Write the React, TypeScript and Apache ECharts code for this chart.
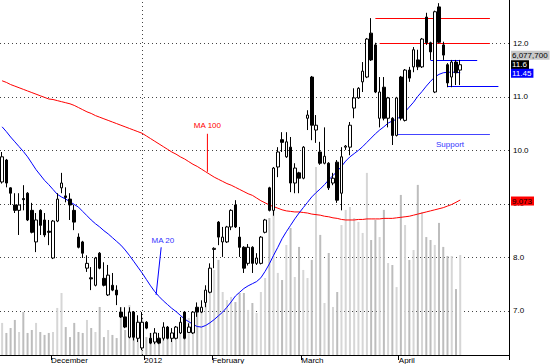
import React, { useEffect, useRef } from 'react';
import * as echarts from 'echarts';

const FONT = '"Liberation Sans", Arial, sans-serif';
const slotCount = 120;
const monthTickIdx = [12, 34, 50, 71, 94];
const monthTickText = ['December', '2012', 'February', 'March', 'April'];
const yearLineIdx = 33;

// open, close, low, high
const ohlc: number[][] = [
  [9.41, 9.88, 9.38, 9.97], [9.82, 9.39, 9.31, 9.84], [9.30, 9.20, 8.98, 9.31], [8.98, 8.88, 8.83, 9.20],
  [8.88, 8.98, 8.42, 9.20], [9.10, 9.08, 8.88, 9.35], [9.20, 8.70, 8.68, 9.22], [8.88, 8.47, 8.45, 9.02],
  [8.29, 8.70, 8.10, 8.83], [8.88, 8.60, 8.42, 8.90], [8.70, 8.42, 8.38, 8.83], [8.49, 8.47, 8.23, 8.70],
  [7.99, 8.68, 7.97, 8.70], [8.68, 9.09, 8.66, 9.20], [9.30, 9.39, 9.20, 9.58], [9.15, 9.12, 9.03, 9.31],
  [9.09, 8.98, 8.70, 9.20], [8.88, 8.66, 8.51, 8.98], [8.38, 8.19, 8.17, 8.45], [8.29, 8.08, 7.99, 8.31],
  [7.80, 7.89, 7.73, 8.04], [7.62, 7.60, 7.39, 7.82], [7.48, 7.99, 7.46, 8.01], [8.08, 7.80, 7.78, 8.10],
  [7.61, 7.48, 7.46, 7.91], [7.30, 7.67, 7.28, 7.86], [7.48, 7.39, 7.37, 7.71], [7.39, 7.30, 7.11, 7.48],
  [6.98, 6.89, 6.87, 7.07], [6.89, 6.70, 6.68, 7.07], [6.51, 6.98, 6.49, 7.07], [6.98, 6.51, 6.45, 7.00],
  [6.49, 6.79, 6.42, 6.92], [6.31, 6.79, 6.27, 6.98], [6.79, 6.68, 6.66, 6.81], [6.49, 6.40, 6.38, 6.59],
  [6.42, 6.59, 6.38, 6.68], [6.49, 6.40, 6.38, 6.59], [6.49, 6.70, 6.45, 6.79], [6.70, 6.49, 6.47, 6.72],
  [6.49, 6.59, 6.42, 6.68], [6.49, 6.70, 6.47, 6.72], [6.59, 6.79, 6.57, 6.89], [6.98, 6.49, 6.47, 7.00],
  [6.60, 6.70, 6.59, 6.77], [6.59, 6.98, 6.57, 7.00], [7.07, 6.98, 6.89, 7.16], [6.98, 7.07, 6.96, 7.20],
  [7.16, 7.39, 7.07, 7.48], [7.35, 7.80, 7.33, 7.89], [8.15, 8.17, 7.80, 8.19], [8.66, 8.38, 8.23, 8.68],
  [8.29, 8.38, 8.01, 8.57], [8.29, 8.57, 8.27, 8.59], [8.57, 8.88, 8.51, 8.90], [8.98, 8.57, 8.55, 9.07],
  [8.38, 8.19, 8.01, 8.57], [8.19, 7.80, 7.71, 8.21], [7.89, 8.19, 7.85, 8.25], [8.19, 7.89, 7.71, 8.21],
  [7.89, 7.99, 7.86, 8.08], [7.89, 8.38, 7.87, 8.40], [8.47, 8.70, 8.45, 8.72], [9.30, 8.88, 8.86, 9.32],
  [8.88, 9.67, 8.78, 9.69], [9.69, 9.97, 9.50, 10.06], [10.20, 10.15, 9.97, 10.34], [9.88, 10.16, 9.86, 10.34],
  [10.06, 9.39, 9.22, 10.25], [9.39, 9.67, 9.20, 9.76], [9.58, 9.48, 9.20, 9.60], [9.48, 10.06, 9.46, 10.08],
  [10.60, 10.66, 10.38, 10.75], [11.37, 10.47, 10.19, 11.39], [10.38, 10.47, 10.14, 10.66], [9.97, 9.76, 9.73, 10.16],
  [9.76, 9.89, 9.74, 10.43], [9.76, 9.30, 9.26, 9.78], [9.39, 9.48, 9.35, 9.58], [9.78, 9.07, 9.02, 9.82],
  [9.20, 9.88, 8.88, 10.06], [10.06, 10.08, 10.01, 10.10], [10.06, 10.47, 9.91, 10.53], [10.79, 10.98, 10.60, 11.16],
  [10.98, 11.16, 10.96, 11.18], [11.28, 11.48, 11.09, 11.65], [11.37, 12.08, 11.35, 12.10], [12.19, 11.69, 11.67, 12.47],
  [11.97, 11.09, 11.07, 12.01], [10.60, 11.09, 10.43, 11.37], [11.18, 10.60, 10.56, 11.37], [10.60, 10.98, 10.43, 11.00],
  [10.60, 10.28, 10.10, 10.62], [10.28, 10.98, 10.26, 11.00], [11.37, 10.60, 10.56, 11.39], [10.56, 11.50, 10.54, 11.52],
  [11.50, 11.35, 11.28, 11.56], [11.56, 11.88, 11.46, 11.93], [11.69, 11.56, 11.50, 11.88], [11.56, 12.08, 11.54, 12.10],
  [12.49, 12.01, 11.97, 12.57], [12.01, 11.84, 11.69, 12.03], [11.09, 12.59, 11.07, 12.61], [12.68, 12.02, 12.00, 12.75],
  [11.97, 11.78, 11.69, 12.03], [11.60, 11.26, 11.18, 11.63], [11.37, 11.65, 11.18, 11.69], [11.65, 11.45, 11.22, 11.69],
  [11.50, 11.60, 11.22, 11.69],
];

// volume, millions of shares
const volumeM: number[] = [
  1.95, 1.34, 1.64, 2.13, 1.40, 2.61, 1.34, 1.52, 1.95, 1.40, 1.22, 1.34, 1.40, 2.86, 3.77, 1.70,
  1.09, 1.95, 1.40, 1.34, 2.13, 1.64, 1.40, 2.92, 1.09, 1.52, 1.22, 1.03, 2.92, 1.52, 3.04, 2.61,
  2.13, 2.31, 1.09, 1.34, 0.79, 1.09, 1.52, 1.64, 1.34, 1.70, 1.52, 2.13, 2.25, 2.13, 2.74, 2.92,
  3.16, 3.95, 5.17, 5.78, 3.83, 3.34, 3.53, 3.22, 3.77, 3.77, 2.74, 3.16, 2.55, 3.83, 4.68, 8.33,
  10.9, 4.99, 4.56, 6.69, 7.72, 4.74, 6.57, 5.17, 4.68, 5.78, 11.43,
  7.30, 3.16, 6.20, 2.92, 3.83, 7.90, 8.82, 9.00, 8.33, 8.09, 7.42, 11.07, 6.99, 8.21, 7.17, 8.82,
  5.59, 5.47, 4.13, 9.73, 7.90, 5.78, 6.38, 10.34, 8.69, 7.17, 6.99, 6.69, 8.03, 6.57, 6.02, 6.02,
  4.01, 6.0777,
];
const volumeMax = 21.58;

const ma20: number[] = [
  10.44, 10.35, 10.25, 10.16, 10.07, 9.98, 9.88, 9.76, 9.64, 9.54, 9.44, 9.36, 9.27, 9.18, 9.13, 9.09,
  9.04, 8.99, 8.94, 8.86, 8.78, 8.70, 8.63, 8.57, 8.50, 8.44, 8.37, 8.30, 8.23, 8.14, 8.04, 7.93,
  7.82, 7.71, 7.59, 7.47, 7.36, 7.27, 7.19, 7.12, 7.05, 6.99, 6.92, 6.85, 6.80, 6.75, 6.71, 6.70,
  6.73, 6.78, 6.84, 6.91, 6.98, 7.07, 7.17, 7.28, 7.35, 7.42, 7.47, 7.51, 7.55, 7.62, 7.74, 7.88,
  8.04, 8.19, 8.35, 8.48, 8.60, 8.72, 8.83, 8.93, 9.03, 9.13, 9.21, 9.28, 9.36, 9.45, 9.53, 9.61,
  9.70, 9.80, 9.88, 9.94, 10.00, 10.07, 10.15, 10.23, 10.31, 10.38, 10.44, 10.51, 10.55, 10.58, 10.64, 10.72,
  10.81, 10.90, 11.01, 11.10, 11.20, 11.29, 11.37, 11.42, 11.45, 11.46, 11.46, 11.46, 11.45,
];

const ma100: number[] = [
  11.30, 11.27, 11.23, 11.20, 11.17, 11.14, 11.11, 11.08, 11.05, 11.02, 10.99, 10.96, 10.95, 10.93, 10.91, 10.89,
  10.87, 10.84, 10.80, 10.76, 10.72, 10.69, 10.65, 10.62, 10.59, 10.56, 10.53, 10.50, 10.47, 10.44, 10.41, 10.38,
  10.35, 10.32, 10.27, 10.22, 10.17, 10.12, 10.07, 10.02, 9.97, 9.93, 9.88, 9.84, 9.79, 9.74, 9.70, 9.65,
  9.60, 9.55, 9.50, 9.46, 9.42, 9.38, 9.35, 9.31, 9.27, 9.23, 9.19, 9.16, 9.11, 9.06, 9.02, 8.98,
  8.95, 8.92, 8.89, 8.87, 8.86, 8.85, 8.85, 8.84, 8.83, 8.81, 8.80, 8.79, 8.77, 8.76, 8.74, 8.73,
  8.71, 8.70, 8.70, 8.70, 8.71, 8.71, 8.72, 8.72, 8.72, 8.72, 8.73, 8.73, 8.73, 8.74, 8.75, 8.76,
  8.77, 8.79, 8.81, 8.83, 8.85, 8.87, 8.89, 8.91, 8.93, 8.96, 8.99, 9.03, 9.073,
];

// horizontal level lines: [fromIdx, toIdx, price]
const redLevels: number[][] = [[88, 115, 12.47], [89, 115, 12.0]];
const blueLevels: number[][] = [[101, 112, 11.68], [105, 117, 11.19]];
const supportLevel: number[][] = [[93, 115, 10.30]];

const priceMin = 6.178;
const priceMax = 12.809;

export default function App() {
  const ref = useRef<HTMLDivElement>(null);
  useEffect(() => {
    if (!ref.current) return;
    const chart = echarts.init(ref.current, null, { renderer: 'svg' });
    const categories = Array.from({ length: slotCount }, (_, i) => 'd' + i);
    const tickSet = new Set(monthTickIdx);
    const labelOf = (i: number) => {
      const k = monthTickIdx.indexOf(i);
      return k >= 0 ? monthTickText[k] : '';
    };
    const dotted = { type: [1, 3] as any, color: '#444', width: 1 };

    const mkLevel = (arr: number[][], color: string) =>
      arr.map((l) => [
        { coord: [l[0], l[2]], lineStyle: { color, width: 1, type: 'solid' } },
        { coord: [l[1], l[2]] },
      ]);

    const option: any = {
      animation: false,
      backgroundColor: '#fff',
      grid: { left: 0, right: 41, top: 0, bottom: 9, containLabel: false, outerBoundsMode: 'none' },
      xAxis: [
        {
          type: 'category',
          data: categories,
          boundaryGap: true,
          axisLine: { show: true, lineStyle: { color: '#000', width: 1 } },
          axisTick: {
            show: true,
            alignWithLabel: false,
            interval: (i: number) => tickSet.has(i),
            length: 5,
            lineStyle: { color: '#000' },
          },
          axisLabel: {
            show: true,
            interval: (i: number) => tickSet.has(i),
            formatter: (_v: string, i: number) => labelOf(i),
            align: 'left',
            margin: 1,
            padding: [0, 0, 0, -2],
            fontSize: 8,
            fontFamily: FONT,
            color: '#000',
          },
          splitLine: { show: false },
        },
      ],
      yAxis: [
        {
          type: 'value',
          position: 'right',
          min: priceMin,
          max: priceMax,
          splitNumber: 6,
          axisLine: { show: true, lineStyle: { color: '#000', width: 1 } },
          axisTick: { show: false },
          axisLabel: {
            formatter: (v: number) => v.toFixed(1),
            margin: 4,
            fontSize: 8,
            fontFamily: FONT,
            color: '#000',
            showMinLabel: false,
            showMaxLabel: false,
          },
          splitLine: { show: true, showMinLine: false, showMaxLine: false, lineStyle: dotted },
        },
        { type: 'value', min: 0, max: volumeMax, show: false, splitLine: { show: false } },
      ],
      series: [
        {
          type: 'bar',
          yAxisIndex: 1,
          barWidth: 2,
          silent: true,
          z: 1,
          data: volumeM.map((v, i) => ({
            value: v,
            itemStyle: { color: ohlc[i][1] >= ohlc[i][0] ? '#d6d6d6' : '#bdbdbd' },
          })),
        },
        {
          type: 'line',
          data: ma100,
          symbol: 'none',
          silent: true,
          z: 3,
          lineStyle: { color: '#ff0000', width: 1 },
          itemStyle: { color: '#ff0000' },
        },
        {
          type: 'line',
          data: ma20,
          symbol: 'none',
          silent: true,
          z: 3,
          lineStyle: { color: '#0000ff', width: 1 },
          itemStyle: { color: '#0000ff' },
        },
        {
          type: 'candlestick',
          data: ohlc.map((d) => [d[0], d[1], d[2], d[3]]),
          barWidth: 3,
          z: 5,
          silent: true,
          itemStyle: {
            color: '#ffffff',
            color0: '#000000',
            borderColor: '#000000',
            borderColor0: '#000000',
            borderWidth: 1,
          },
          markLine: {
            silent: true,
            symbol: ['none', 'none'],
            label: { show: false },
            animation: false,
            data: [
              { xAxis: yearLineIdx, lineStyle: dotted },
              ...mkLevel(redLevels, '#ff0000'),
              ...mkLevel(blueLevels, '#0000ff'),
              ...mkLevel(supportLevel, '#4444ff'),
            ],
          },
        },
      ],
    };
    chart.setOption(option);

    const toPx = (idx: number, price: number) => {
      const i0 = Math.floor(idx);
      const f = idx - i0;
      const a = chart.convertToPixel({ xAxisIndex: 0, yAxisIndex: 0 }, [i0, price]) as number[];
      const b = chart.convertToPixel({ xAxisIndex: 0, yAxisIndex: 0 }, [i0 + 1, price]) as number[];
      return [a[0] + (b[0] - a[0]) * f, a[1]];
    };
    const axisX = chart.getWidth() - 41;
    const last = ohlc.length - 1;
    const yClose = toPx(last, ohlc[last][1])[1];
    const yMa20 = toPx(last, ma20[last])[1];
    const yMa100 = toPx(last, ma100[last])[1];
    const font = '8px ' + FONT;
    const box = (text: string, y: number, bg: string, fill: string) => ({
      type: 'text',
      z: 100,
      x: axisX + 2,
      y,
      style: { text, font, fill, backgroundColor: bg, padding: [1, 2, 0, 1], align: 'left', verticalAlign: 'middle' },
    });
    const t = (text: string, p: number[], fill: string) => ({
      type: 'text',
      z: 100,
      x: p[0],
      y: p[1],
      style: { text, font, fill, align: 'center', verticalAlign: 'middle' },
    });
    const ln = (p1: number[], p2: number[], stroke: string) => ({
      type: 'line',
      z: 100,
      shape: { x1: p1[0], y1: p1[1], x2: p2[0], y2: p2[1] },
      style: { stroke, lineWidth: 1 },
    });
    const volText = Math.round(volumeM[last] * 1e6).toLocaleString('en-US');
    chart.setOption({
      graphic: [
        t('MA 100', toPx(48.4, 10.47), '#ff0000'),
        ln(toPx(48.4, 10.31), toPx(48.4, ma100[48]), '#ff0000'),
        t('MA 20', toPx(37.9, 8.31), '#3333ff'),
        ln(toPx(37.5, 8.19), toPx(36.3, 7.30), '#0000ff'),
        t('Support', toPx(105.6, 10.11), '#3333ff'),
        box(volText, yClose - 9.5, '#c8c8c8', '#000'),
        box(ohlc[last][1].toFixed(1), yClose, '#000000', '#ffffff'),
        box(ma20[last].toFixed(2), yMa20 + 0.5, '#0000ff', '#ffffff'),
        box(ma100[last].toFixed(3), yMa100 + 1, '#ff0000', '#000000'),
      ],
    });
    return () => chart.dispose();
  }, []);
  return <div ref={ref} style={{ position: 'absolute', left: 0, top: 0, width: 550, height: 364 }} />;
}
